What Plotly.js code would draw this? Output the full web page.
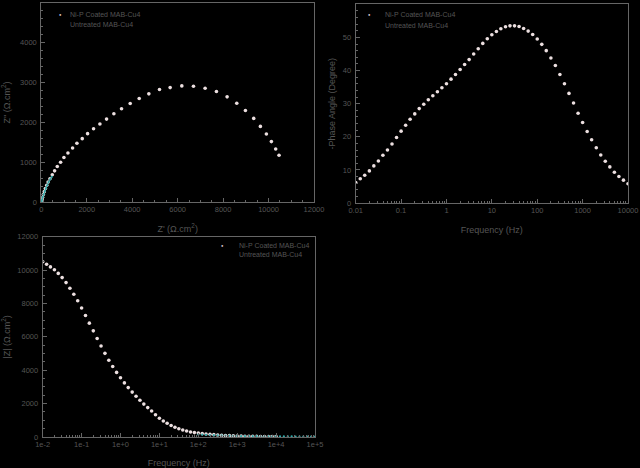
<!DOCTYPE html>
<html>
<head>
<meta charset="utf-8">
<script src="https://cdn.plot.ly/plotly-3.0.1.min.js"></script>
<style>
  html, body { margin: 0; padding: 0; background: #000; }
  #chart { width: 640px; height: 468px; }
</style>
</head>
<body>
<div id="chart"></div>
<script>
// Nyquist, Ni-P coated (low -> high frequency)
const nyqCoatedRe = [10461, 10315, 10125, 9905, 9641, 9348, 8982, 8601, 8176, 7707, 7209, 6696, 6183, 5670, 5201, 4733, 4308, 3912, 3531, 3194, 2872, 2579, 2300, 2037, 1802, 1568, 1377, 1172, 996, 850, 703, 586, 484, 381, 300, 240, 180, 130, 90, 55, 30, 15, 8];
const nyqCoatedIm = [1175, 1333, 1517, 1708, 1900, 2100, 2300, 2483, 2642, 2775, 2858, 2908, 2917, 2875, 2825, 2717, 2600, 2475, 2342, 2217, 2083, 1958, 1842, 1717, 1592, 1475, 1358, 1233, 1117, 1000, 892, 783, 683, 583, 500, 420, 340, 260, 190, 120, 65, 30, 15];

// Nyquist, untreated (small arc at the origin)
const nyqUntreatedRe = [460, 390, 320, 260, 200, 150, 100, 60, 30, 10, 0];
const nyqUntreatedIm = [630, 570, 500, 420, 340, 270, 190, 120, 60, 20, 0];

// Bode frequencies (Hz)
const freqCoated = [0.01, 0.0126, 0.0158, 0.02, 0.0251, 0.0316, 0.0398, 0.0501, 0.0631, 0.0794,
  0.1, 0.126, 0.158, 0.2, 0.251, 0.316, 0.398, 0.501, 0.631, 0.794,
  1, 1.26, 1.58, 2, 2.51, 3.16, 3.98, 5.01, 6.31, 7.94,
  10, 12.6, 15.8, 20, 25.1, 31.6, 39.8, 50.1, 63.1, 79.4,
  100, 126, 158, 200, 251, 316, 398, 501, 631, 794,
  1000, 1260, 1580, 2000, 2510, 3160, 3980, 5010, 6310, 7940, 10000];
const freqUntreated = [100, 126, 158, 200, 251, 316, 398, 501, 631, 794,
  1000, 1260, 1580, 2000, 2510, 3160, 3980, 5010, 6310, 7940,
  10000, 12600, 15800, 20000, 25100, 31600, 39800, 50100, 63100, 79400, 100000];

// -Phase angle (degree), coated
const phaseCoated = [6.2, 7.3, 8.4, 9.7, 11.2, 12.7, 14.4, 16.0, 17.8, 19.8,
  21.7, 23.5, 25.3, 26.9, 28.5, 29.8, 31.2, 32.4, 33.6, 34.8,
  36.0, 37.4, 38.8, 40.3, 41.8, 43.3, 45.0, 46.6, 48.2, 49.6,
  50.8, 51.8, 52.6, 53.2, 53.5, 53.5, 53.3, 52.7, 51.9, 50.9,
  49.5, 47.9, 46.0, 43.8, 41.5, 38.8, 36.0, 33.1, 30.2, 27.1,
  24.3, 21.6, 19.1, 16.7, 14.5, 12.6, 10.9, 9.3, 8.0, 6.9, 5.8];

// |Z| (ohm.cm2)
const modCoated = [10500, 10350, 10190, 10020, 9800, 9550, 9250, 8910, 8550, 8160,
  7730, 7280, 6820, 6360, 5900, 5450, 5010, 4600, 4220, 3870,
  3550, 3240, 2960, 2690, 2440, 2200, 1970, 1760, 1560, 1330,
  1120, 960, 820, 690, 580, 490, 420, 360, 300, 265,
  235, 205, 180, 160, 140, 120, 105, 92, 80, 70,
  60, 54, 48, 44, 40, 37, 34, 32, 30, 29, 28];
const modUntreated = [150, 140, 130, 120, 110, 100, 92, 85, 78, 72,
  66, 61, 57, 53, 50, 47, 44, 42, 40, 38,
  36, 35, 34, 33, 32, 31, 30, 30, 29, 29, 28];

const phaseTickVals = [0.01, 0.1, 1, 10, 100, 1000, 10000];
const phaseTickText = ['0.01', '0.1', '1', '10', '100', '1000', '10000'];
const modTickVals = [0.01, 0.1, 1, 10, 100, 1000, 10000, 100000];
const modTickText = ['1e-2', '1e-1', '1e+0', '1e+1', '1e+2', '1e+3', '1e+4', '1e+5'];

const COATED = '#ecdfe0';
const UNTREATED = '#2fa6a6';
const INK = '#555555';
const LINE = '#666666';
const FONT = 'Liberation Sans, Arial, sans-serif';
const W = 640, H = 468;

const coatedMarker = { size: 3.6, color: COATED };
const untreatedMarker = { size: 2.2, color: UNTREATED };

const traces = [
  { x: nyqCoatedRe, y: nyqCoatedIm, xaxis: 'x', yaxis: 'y', type: 'scatter', mode: 'markers', name: 'Ni-P Coated MAB-Cu4', marker: coatedMarker },
  { x: nyqUntreatedRe, y: nyqUntreatedIm, xaxis: 'x', yaxis: 'y', type: 'scatter', mode: 'lines+markers', name: 'Untreated MAB-Cu4', marker: untreatedMarker, line: { color: UNTREATED, width: 1 } },
  { x: freqCoated, y: phaseCoated, xaxis: 'x2', yaxis: 'y2', type: 'scatter', mode: 'markers', name: 'Ni-P Coated MAB-Cu4', marker: coatedMarker },
  { x: freqCoated, y: modCoated, xaxis: 'x3', yaxis: 'y3', type: 'scatter', mode: 'markers', name: 'Ni-P Coated MAB-Cu4', marker: coatedMarker },
  { x: freqUntreated, y: modUntreated, xaxis: 'x3', yaxis: 'y3', type: 'scatter', mode: 'markers', name: 'Untreated MAB-Cu4', marker: untreatedMarker },
];

// shared axis look
function axis(extra) {
  return Object.assign({
    showline: true, linecolor: LINE, linewidth: 1, mirror: true,
    showgrid: false, zeroline: false,
    ticks: 'inside', ticklen: 4, tickcolor: LINE,
    tickformat: 'd', exponentformat: 'none',
    tickfont: { family: FONT, size: 7.5, color: INK },
  }, extra);
}

function minor(dtick) {
  return { ticks: 'inside', ticklen: 2, tickcolor: LINE, showgrid: false, dtick };
}

function axTitle(text, standoff) {
  return { text, standoff, font: { family: FONT, size: 9, color: INK } };
}

// legend entries drawn as text, positioned in pixels
function legend(mx, tx, y0) {
  const f = { family: FONT, size: 7, color: INK };
  return [
    { text: '●', x: mx / W, y: 1 - y0 / H, font: { size: 4, color: COATED } },
    { text: 'Ni-P Coated MAB-Cu4', x: tx / W, y: 1 - y0 / H, xanchor: 'left', font: f },
    { text: 'Untreated MAB-Cu4', x: tx / W, y: 1 - (y0 + 10) / H, xanchor: 'left', font: f },
  ].map(a => Object.assign({ xref: 'paper', yref: 'paper', showarrow: false, yanchor: 'middle' }, a));
}

const layout = {
  width: W,
  height: H,
  margin: { l: 0, r: 0, t: 0, b: 0 },
  paper_bgcolor: '#000000',
  plot_bgcolor: '#000000',
  showlegend: false,
  font: { family: FONT, color: INK },

  xaxis: axis({ domain: [41.3 / W, 314 / W], anchor: 'y', range: [0, 12000], tick0: 0, dtick: 2000,
    minor: minor(500), title: axTitle("Z' (Ω.cm<sup>2</sup>)", 12) }),
  yaxis: axis({ domain: [1 - 202 / H, 1 - 3 / H], anchor: 'x', range: [0, 5000], tick0: 0, dtick: 1000,
    ticklabelstandoff: 2, minor: minor(200), title: axTitle("Z'' (Ω.cm<sup>2</sup>)", 10) }),

  xaxis2: axis({ domain: [355.7 / W, 628 / W], anchor: 'y2', type: 'log', range: [-2, 4],
    tickmode: 'array', tickvals: phaseTickVals, ticktext: phaseTickText, tickformat: '',
    minor: minor('D1'), title: axTitle('Frequency (Hz)', 12) }),
  yaxis2: axis({ domain: [1 - 203 / H, 1 - 4.3 / H], anchor: 'x2', range: [0, 60], tick0: 0, dtick: 10,
    ticklabelstandoff: 2, minor: minor(2), title: axTitle('-Phase Angle (Degree)', 5) }),

  xaxis3: axis({ domain: [42.7 / W, 315 / W], anchor: 'y3', type: 'log', range: [-2, 5],
    tickmode: 'array', tickvals: modTickVals, ticktext: modTickText, tickformat: '',
    minor: minor('D1'), title: axTitle('Frequency (Hz)', 12) }),
  yaxis3: axis({ domain: [1 - 437 / H, 1 - 236.7 / H], anchor: 'x3', range: [0, 12000], tick0: 0, dtick: 2000,
    ticklabelstandoff: 2, minor: minor(500), title: axTitle('|Z| (Ω.cm<sup>2</sup>)', 6) }),

  annotations: [].concat(legend(57, 68, 14), legend(369, 383, 15), legend(222.7, 236.7, 245)),
};

Plotly.newPlot('chart', traces, layout, { displayModeBar: false, staticPlot: true });
</script>
</body>
</html>
